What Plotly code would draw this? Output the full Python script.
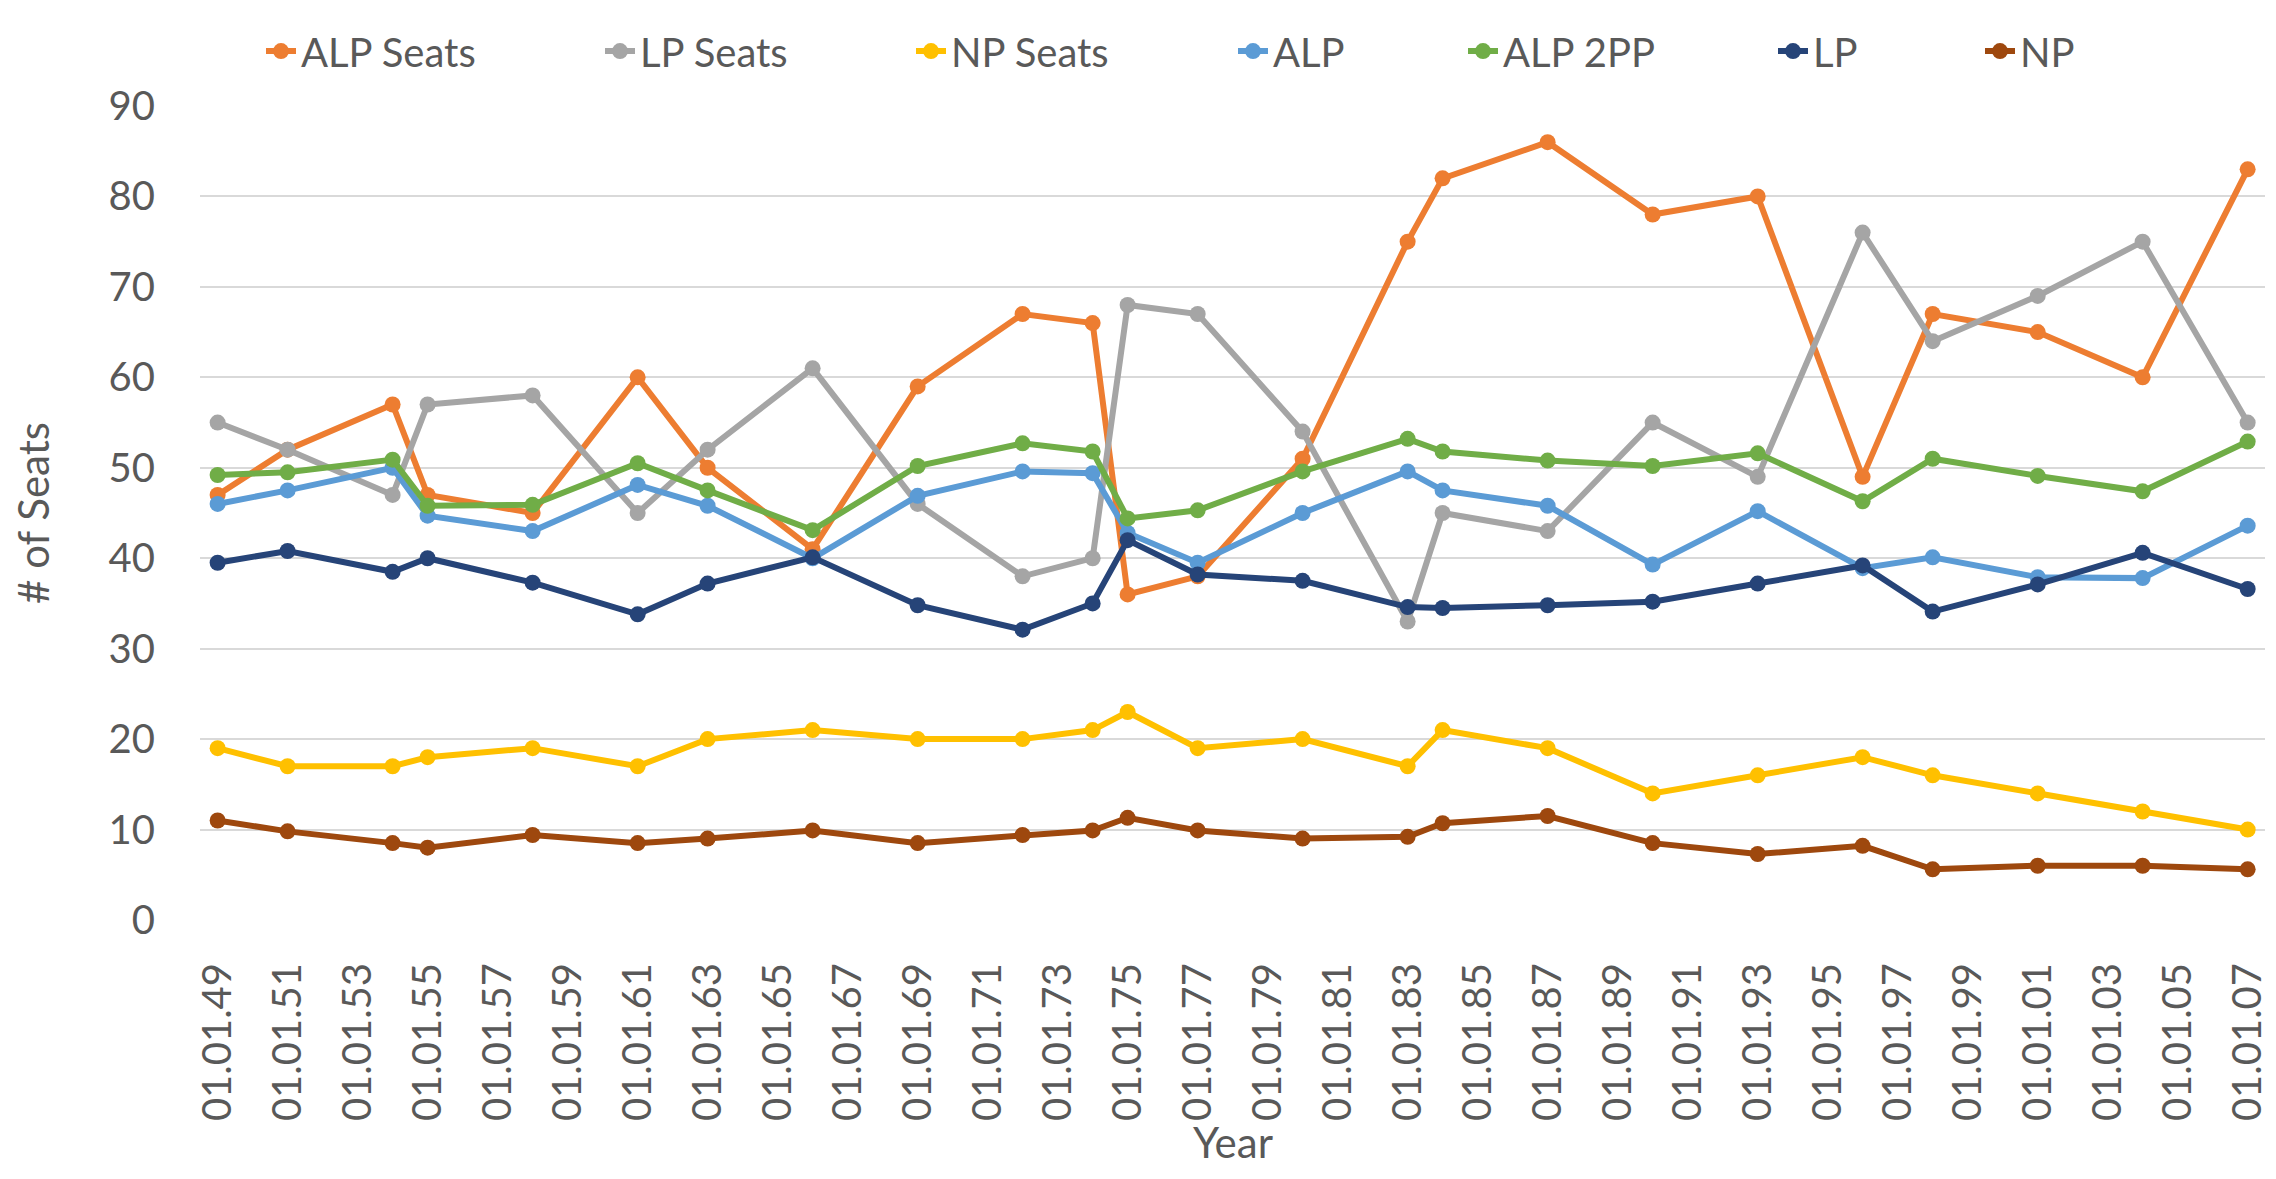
import plotly.graph_objects as go

# election years, plotted on 1 Jan of each year (like the excel sheet)
years = [1949, 1951, 1954, 1955, 1958, 1961, 1963, 1966, 1969, 1972, 1974, 1975,
         1977, 1980, 1983, 1984, 1987, 1990, 1993, 1996, 1998, 2001, 2004, 2007]
dates = ['%d-01-01' % y for y in years]

alp_seats = [47, 52, 57, 47, 45, 60, 50, 41, 59, 67, 66, 36,
             38, 51, 75, 82, 86, 78, 80, 49, 67, 65, 60, 83]
lp_seats = [55, 52, 47, 57, 58, 45, 52, 61, 46, 38, 40, 68,
            67, 54, 33, 45, 43, 55, 49, 76, 64, 69, 75, 55]
np_seats = [19, 17, 17, 18, 19, 17, 20, 21, 20, 20, 21, 23,
            19, 20, 17, 21, 19, 14, 16, 18, 16, 14, 12, 10]
alp_vote = [46.0, 47.5, 50.0, 44.7, 43.0, 48.1, 45.8, 40.0, 46.9, 49.6, 49.4, 42.8,
            39.5, 45.0, 49.6, 47.5, 45.8, 39.3, 45.2, 38.9, 40.1, 37.9, 37.8, 43.6]
alp_2pp = [49.2, 49.5, 50.9, 45.8, 45.9, 50.5, 47.5, 43.1, 50.2, 52.7, 51.8, 44.4,
           45.3, 49.6, 53.2, 51.8, 50.8, 50.2, 51.6, 46.3, 51.0, 49.1, 47.4, 52.9]
lp_vote = [39.5, 40.8, 38.5, 40.0, 37.3, 33.8, 37.2, 40.1, 34.8, 32.1, 35.0, 42.0,
           38.2, 37.5, 34.6, 34.5, 34.8, 35.2, 37.2, 39.2, 34.1, 37.1, 40.6, 36.6]
np_vote = [11.0, 9.8, 8.5, 8.0, 9.4, 8.5, 9.0, 9.9, 8.5, 9.4, 9.9, 11.3,
           9.9, 9.0, 9.2, 10.7, 11.5, 8.5, 7.3, 8.2, 5.6, 6.0, 6.0, 5.6]

names = ['ALP Seats', 'LP Seats', 'NP Seats', 'ALP', 'ALP 2PP', 'LP', 'NP']
series = [alp_seats, lp_seats, np_seats, alp_vote, alp_2pp, lp_vote, np_vote]
colors = ['#ED7D31', '#A5A5A5', '#FFC000', '#5B9BD5', '#70AD47', '#264478', '#9E480E']

# x where the text of each legend entry starts (screen px)
legend_text_px = [301, 640, 951, 1273, 1503, 1813, 2020]

# the page body has an 8px margin, so the figure is made that much smaller
OFF = 8
W, H = 2276 - OFF, 1179 - OFF
ML, MR, MT, MB = 200 - OFF, 11, 90 - OFF, 259
pw, ph = W - ML - MR, H - MT - MB
font = 'Lato, Open Sans, sans-serif'
grey = '#595959'

fig = go.Figure()
for i in range(len(names)):
    fig.add_trace(go.Scatter(
        x=dates, y=series[i], name=names[i], mode='lines+markers',
        line=dict(color=colors[i], width=6),
        marker=dict(color=colors[i], size=16),
        legend='legend' if i == 0 else 'legend%d' % (i + 1)
    ))

layout = dict(
    width=W, height=H, showlegend=True,
    paper_bgcolor='white', plot_bgcolor='white',
    margin=dict(l=ML, r=MR, t=MT, b=MB),
    font=dict(family=font, size=40, color=grey),
    xaxis=dict(
        type='date', range=['1948-07-01', '2007-07-01'],
        tick0='1949-01-01', dtick='M24', tickformat='%d.%m.%y',
        tickangle=-90, showgrid=False, zeroline=False, showline=False,
        ticks='', ticklabelstandoff=34, automargin=False,
    ),
    yaxis=dict(
        range=[0, 90], dtick=10, gridcolor='#D9D9D9', gridwidth=2,
        zeroline=False, showline=False, ticks='', ticklabelstandoff=44,
        automargin=False,
        title=dict(text='# of Seats', standoff=52, font=dict(size=42)),
    ),
    annotations=[dict(
        text='Year', xref='paper', yref='paper', x=0.5,
        y=-((1146 - OFF) - (H - MB)) / ph,
        xanchor='center', yanchor='middle', showarrow=False, font=dict(size=42),
    )],
)
# one legend per trace so the entries can be spaced like the original
for i in range(len(names)):
    key = 'legend' if i == 0 else 'legend%d' % (i + 1)
    layout[key] = dict(
        orientation='h', xref='paper', yref='paper',
        x=(legend_text_px[i] - 40 - OFF - ML) / pw, y=1 + (MT - (34 - OFF)) / ph,
        xanchor='left', yanchor='middle',
        bgcolor='rgba(0,0,0,0)', font=dict(size=40, color=grey), itemwidth=30,
    )
fig.update_layout(**layout)

fig.write_html("out.html")
